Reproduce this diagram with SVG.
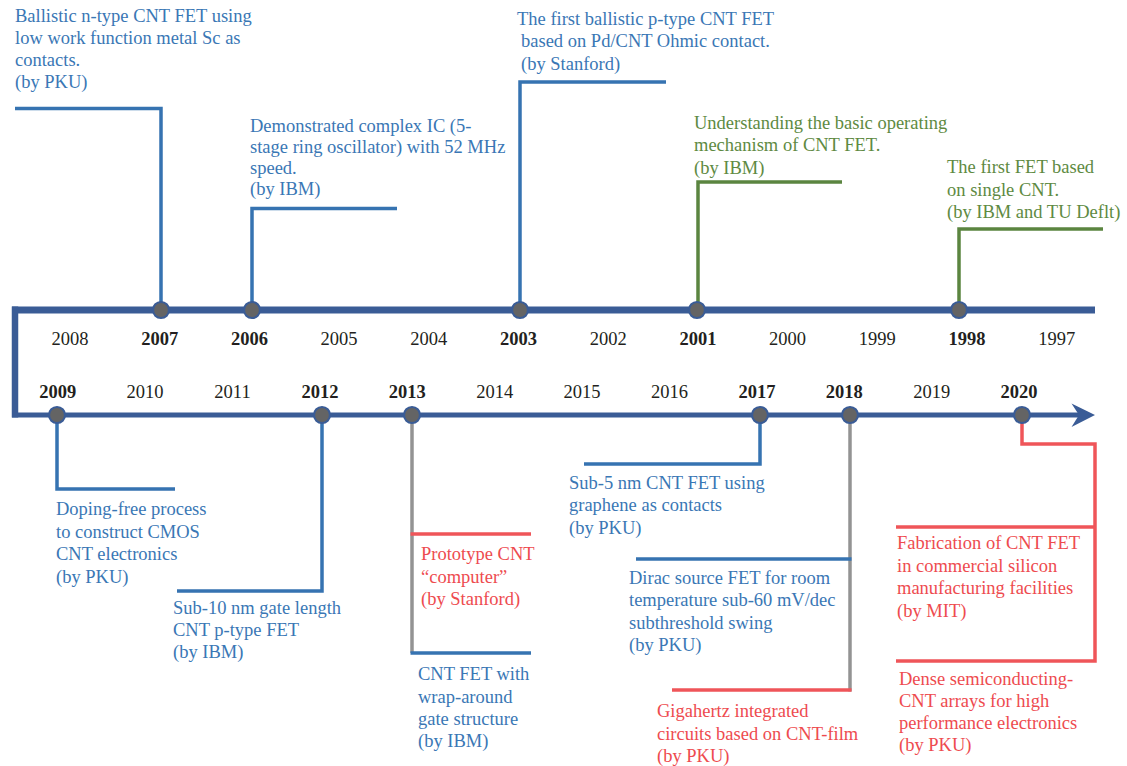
<svg xmlns="http://www.w3.org/2000/svg" width="1127" height="766" viewBox="0 0 1127 766">
  <style>
    text { font-family: "Liberation Serif", "Times New Roman", serif; font-size: 18.5px; }
    .yr { fill: #231f20; text-anchor: middle; }
    .yb { font-weight: bold; }
    .tb { fill: #3a77b5; }
    .tg { fill: #5e8a42; }
    .tr { fill: #ee4b4f; }
    .axis { stroke: #3a5c96; fill: none; }
    .cb { stroke: #3673b1; stroke-width: 3.5; fill: none; }
    .cg { stroke: #5b8540; stroke-width: 3.5; fill: none; }
    .cr { stroke: #ef5559; stroke-width: 3.5; fill: none; }
    .cgr { stroke: #939393; stroke-width: 3.5; fill: none; }
    .dot { fill: #646464; stroke: #3a5c96; stroke-width: 2.2; }
  </style>

  <!-- timeline axis: upper row runs right-to-left, lower row left-to-right -->
  <g id="axis">
    <line class="axis" x1="12" y1="310" x2="1095" y2="310" stroke-width="7"/>
    <line class="axis" x1="15" y1="306.5" x2="15" y2="417.5" stroke-width="6.5"/>
    <line class="axis" x1="12" y1="415" x2="1080" y2="415" stroke-width="5"/>
    <polygon points="1095,415 1071.5,403.5 1079,415 1071.5,427" fill="#3a5c96"/>
  </g>

  <!-- year labels -->
  <g id="years">
    <text class="yr" x="70" y="345">2008</text>
    <text class="yr yb" x="159.7" y="345">2007</text>
    <text class="yr yb" x="249.4" y="345">2006</text>
    <text class="yr" x="339.1" y="345">2005</text>
    <text class="yr" x="428.8" y="345">2004</text>
    <text class="yr yb" x="518.5" y="345">2003</text>
    <text class="yr" x="608.2" y="345">2002</text>
    <text class="yr yb" x="697.9" y="345">2001</text>
    <text class="yr" x="787.6" y="345">2000</text>
    <text class="yr" x="877.3" y="345">1999</text>
    <text class="yr yb" x="967" y="345">1998</text>
    <text class="yr" x="1056.7" y="345">1997</text>

    <text class="yr yb" x="57.7" y="398">2009</text>
    <text class="yr" x="145.1" y="398">2010</text>
    <text class="yr" x="232.5" y="398">2011</text>
    <text class="yr yb" x="319.9" y="398">2012</text>
    <text class="yr yb" x="407.3" y="398">2013</text>
    <text class="yr" x="494.7" y="398">2014</text>
    <text class="yr" x="582.1" y="398">2015</text>
    <text class="yr" x="669.5" y="398">2016</text>
    <text class="yr yb" x="756.9" y="398">2017</text>
    <text class="yr yb" x="844.3" y="398">2018</text>
    <text class="yr" x="931.7" y="398">2019</text>
    <text class="yr yb" x="1019.1" y="398">2020</text>
  </g>

  <!-- connectors from milestones to their captions -->
  <g id="connectors">
    <path class="cb" d="M15,108.5 H161 V302"/>
    <path class="cb" d="M252,302 V208.5 H397"/>
    <path class="cb" d="M520,302 V82 H666"/>
    <path class="cg" d="M698,302 V182 H842"/>
    <path class="cg" d="M959,302 V229 H1103"/>

    <path class="cb" d="M57,423 V489 H175"/>
    <path class="cb" d="M322,423 V591 H177"/>
    <path class="cgr" d="M412,423 V653"/>
    <path class="cr" d="M410.5,534 H531"/>
    <path class="cb" d="M410.5,653 H531"/>
    <path class="cb" d="M760,423 V464 H584"/>
    <path class="cgr" d="M850,423 V691.5"/>
    <path class="cb" d="M636,559 H851.5"/>
    <path class="cr" d="M672,690 H851.5"/>
    <path class="cr" d="M1022,423 V444 H1095 V661 H896"/>
    <path class="cr" d="M896,527 H1095"/>
  </g>

  <!-- milestone markers -->
  <g id="markers">
    <circle class="dot" cx="161" cy="310" r="8"/>
    <circle class="dot" cx="252" cy="310" r="8"/>
    <circle class="dot" cx="520" cy="310" r="8"/>
    <circle class="dot" cx="697" cy="310" r="8"/>
    <circle class="dot" cx="959" cy="310" r="8"/>
    <circle class="dot" cx="57" cy="415" r="8"/>
    <circle class="dot" cx="322" cy="415" r="8"/>
    <circle class="dot" cx="412" cy="415" r="8"/>
    <circle class="dot" cx="760" cy="415" r="8"/>
    <circle class="dot" cx="850" cy="415" r="8"/>
    <circle class="dot" cx="1022" cy="415" r="8"/>
  </g>

  <!-- captions -->
  <g id="n2007">
    <text class="tb"><tspan x="15" y="21.5">Ballistic n-type CNT FET using</tspan><tspan x="15" y="43.5">low work function metal Sc as</tspan><tspan x="15" y="65.5">contacts.</tspan><tspan x="15" y="87.5">(by PKU)</tspan></text>
  </g>
  <g id="n2006">
    <text class="tb"><tspan x="250" y="131.5">Demonstrated complex IC (5-</tspan><tspan x="250" y="152.5">stage ring oscillator) with 52 MHz</tspan><tspan x="250" y="173.5">speed.</tspan><tspan x="250" y="195">(by IBM)</tspan></text>
  </g>
  <g id="n2003">
    <text class="tb"><tspan x="517" y="24.5">The first ballistic p-type CNT FET</tspan><tspan x="521" y="47">based on Pd/CNT Ohmic contact.</tspan><tspan x="521" y="70">(by Stanford)</tspan></text>
  </g>
  <g id="n2001">
    <text class="tg"><tspan x="694" y="128.5">Understanding the basic operating</tspan><tspan x="694" y="151">mechanism of CNT FET.</tspan><tspan x="694" y="173.5">(by IBM)</tspan></text>
  </g>
  <g id="n1998">
    <text class="tg"><tspan x="947" y="173">The first FET based</tspan><tspan x="947" y="195.5">on single CNT.</tspan><tspan x="947" y="218">(by IBM and TU Deflt)</tspan></text>
  </g>
  <g id="n2009">
    <text class="tb"><tspan x="56" y="515">Doping-free process</tspan><tspan x="56" y="537.5">to construct CMOS</tspan><tspan x="56" y="560">CNT electronics</tspan><tspan x="56" y="582.5">(by PKU)</tspan></text>
  </g>
  <g id="n2012">
    <text class="tb"><tspan x="173" y="613.5">Sub-10 nm gate length</tspan><tspan x="173" y="635.5">CNT p-type FET</tspan><tspan x="173" y="658">(by IBM)</tspan></text>
  </g>
  <g id="n2013a">
    <text class="tr"><tspan x="421" y="560">Prototype CNT</tspan><tspan x="421" y="582.5">“computer”</tspan><tspan x="421" y="605">(by Stanford)</tspan></text>
  </g>
  <g id="n2013b">
    <text class="tb"><tspan x="418" y="680">CNT FET with</tspan><tspan x="418" y="702.5">wrap-around</tspan><tspan x="418" y="725">gate structure</tspan><tspan x="418" y="747">(by IBM)</tspan></text>
  </g>
  <g id="n2017">
    <text class="tb"><tspan x="569" y="489">Sub-5 nm CNT FET using</tspan><tspan x="569" y="511">graphene as contacts</tspan><tspan x="569" y="533.5">(by PKU)</tspan></text>
  </g>
  <g id="n2018a">
    <text class="tb"><tspan x="629" y="584">Dirac source FET for room</tspan><tspan x="629" y="606">temperature sub-60 mV/dec</tspan><tspan x="629" y="628.5">subthreshold swing</tspan><tspan x="629" y="651">(by PKU)</tspan></text>
  </g>
  <g id="n2018b">
    <text class="tr"><tspan x="657" y="717">Gigahertz integrated</tspan><tspan x="657" y="739.5">circuits based on CNT-film</tspan><tspan x="657" y="762">(by PKU)</tspan></text>
  </g>
  <g id="n2020a">
    <text class="tr"><tspan x="897" y="549">Fabrication of CNT FET</tspan><tspan x="897" y="571.5">in commercial silicon</tspan><tspan x="897" y="594">manufacturing facilities</tspan><tspan x="897" y="616.5">(by MIT)</tspan></text>
  </g>
  <g id="n2020b">
    <text class="tr"><tspan x="899" y="685">Dense semiconducting-</tspan><tspan x="899" y="707">CNT arrays for high</tspan><tspan x="899" y="729">performance electronics</tspan><tspan x="899" y="751">(by PKU)</tspan></text>
  </g>
</svg>
